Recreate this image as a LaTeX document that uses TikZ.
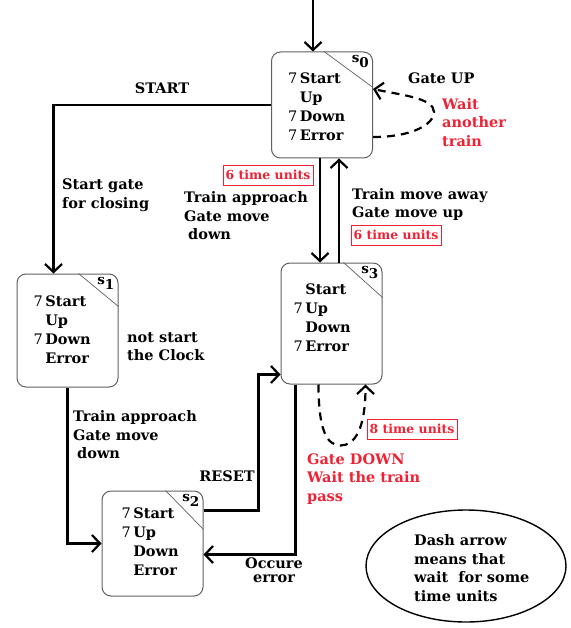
\documentclass[tikz,border=0pt]{standalone}
\usepackage{fontspec}
\setmainfont{DejaVu Serif}
\usetikzlibrary{arrows.meta,positioning,calc,shapes.geometric}
\definecolor{alertred}{RGB}{238,34,52}
\definecolor{boxgray}{RGB}{95,95,95}
\newcommand{\seven}{{\mdseries 7}}
\newcommand{\stname}[1]{s\raisebox{-5pt}{#1}}
\tikzset{
  state/.style={draw=boxgray, line width=1pt, rounded corners=9pt, minimum width=101pt, inner sep=0pt},
  corner/.style={draw=boxgray, line width=0.7pt},
  tag/.style={inner sep=0pt, anchor=north east, font=\fontsize{13.5}{14}\selectfont\bfseries},
  lines/.style={font=\fontsize{14.5}{19}\selectfont\bfseries, inner sep=0pt, anchor=north west},
  note/.style={align=left, font=\fontsize{14.5}{18.5}\selectfont\bfseries, inner sep=0pt},
  waitnote/.style={note, text=alertred},
  units/.style={draw=alertred, text=alertred, line width=0.8pt, font=\fontsize{12.5}{14}\selectfont\bfseries, inner sep=2.5pt, minimum height=20pt},
  wire/.style={line width=2.2pt, ->},
  wait/.style={wire, dash pattern=on 8pt off 6pt},
  >={Straight Barb[length=8pt,width=17pt]}
}

\begin{document}
\begin{tikzpicture}[x=1pt, y=-1pt]
  \useasboundingbox (0,0) rectangle (570,628);

  % States
  \node[state, minimum height=106pt] (s0) at (322,105) {};
  \node[state, minimum height=113pt] (s1) at (67.5,330.5) {};
  \node[state, minimum height=105pt] (s2) at (152.5,543.5) {};
  \node[state, minimum height=121pt] (s3) at (331.5,323.5) {};

  % corner tags
  \draw[corner] ($(s0.north east)+(-49,0)$) -- ($(s0.north east)+(0,36)$);
  \draw[corner] ($(s1.north east)+(-40,0)$) -- ($(s1.north east)+(0,33)$);
  \draw[corner] ($(s2.north east)+(-38,0)$) -- ($(s2.north east)+(0,39)$);
  \draw[corner] ($(s3.north east)+(-39,0)$) -- ($(s3.north east)+(0,35)$);
  \node[tag] (s0n) at ($(s0.north east)+(-4,4)$) {\stname{0}};
  \node[tag] (s1n) at ($(s1.north east)+(-4,4)$) {\stname{1}};
  \node[tag] (s2n) at ($(s2.north east)+(-4,4)$) {\stname{2}};
  \node[tag] (s3n) at ($(s3.north east)+(-4,4)$) {\stname{3}};

  % state contents
  \node[lines] (s0t) at ($(s0.north west)+(17,19)$)
    {\begin{tabular}{@{}r@{\,}l@{}}\seven&Start\\&Up\\\seven&Down\\\seven&Error\end{tabular}};
  \node[lines] (s1t) at ($(s1.north west)+(17,19)$)
    {\begin{tabular}{@{}r@{\,}l@{}}\seven&Start\\&Up\\\seven&Down\\&Error\end{tabular}};
  \node[lines] (s2t) at ($(s2.north west)+(20,14)$)
    {\begin{tabular}{@{}r@{\,}l@{}}\seven&Start\\\seven&Up\\&Down\\&Error\end{tabular}};
  \node[lines] (s3t) at ($(s3.north west)+(13,18)$)
    {\begin{tabular}{@{}r@{\,}l@{}}&Start\\\seven&Up\\&Down\\\seven&Error\end{tabular}};

  % Transitions
  \coordinate (init) at (313,0);
  \draw[wire] (init) -- (init |- s0.north);

  \coordinate (st) at ($(s1.north)+(-14,0)$);
  \draw[wire] (s0.west) -| (st);
  \node[note] (lstart) at (162,88) {START};
  \node[note, anchor=west] (lgate) at (62,195) {Start gate\\for closing};

  \coordinate (dn) at ($(s0.south)+(-2,0)$);
  \coordinate (up) at ($(s0.south)+(17,0)$);
  \draw[wire] (dn) -- (dn |- s3.north);
  \draw[wire] (up |- s3.north) -- (up);
  \node[units] (u1) at (268,175) {6 time units};
  \node[note, anchor=west] (lapp) at (184,216) {Train approach\\Gate move\\\hspace{4pt}down};
  \node[note, anchor=west] (lawy) at (352,204.5) {Train move away\\Gate move up};
  \node[units] (u2) at (396,235) {6 time units};

  \coordinate (w0a) at ($(s0.east)+(0,32)$);
  \coordinate (w0b) at ($(s0.east)+(0,-16)$);
  \coordinate (w0c) at ($(s0.east)+(61,7)$);
  \draw[wait] (w0a) .. controls +(40,0) and +(0,12) .. (w0c)
    .. controls +(0,-14) and +(28,6) .. (w0b);
  \node[note, anchor=west] (lup) at (408,78) {Gate UP};
  \node[waitnote, anchor=west] (lwait) at (442,122.5) {Wait\\another\\train};

  \node[note, anchor=west] (lclk) at (127,346.5) {not start\\the Clock};

  \draw[wire] (s1.south) |- (s2.west);
  \node[note, anchor=west] (lapp2) at (73,435) {Train approach\\Gate move\\\hspace{4pt}down};

  \coordinate (rs) at ($(s2.east)+(0,-33)$);
  \coordinate (rt) at ($(s3.west)+(0,51)$);
  \draw[wire] (rs) -- ++(55,0) |- (rt);
  \node[note] (lrst) at (227,476) {RESET};

  \coordinate (oe) at ($(s3.south)+(-36,0)$);
  \coordinate (oe2) at ($(s2.east)+(0,11)$);
  \draw[wire] (oe) |- (oe2);
  \node[note, align=center, font=\fontsize{14.5}{14}\selectfont\bfseries] (lerr) at (274,570) {Occure\\error};

  \coordinate (w3a) at ($(s3.south)+(-13,0)$);
  \coordinate (w3b) at ($(s3.south)+(34,0)$);
  \coordinate (w3c) at ($(s3.south)+(9,61)$);
  \draw[wait] (w3a) .. controls +(0,45) and +(-14,0) .. (w3c)
    .. controls +(14,0) and +(0,45) .. (w3b);
  \node[units] (u3) at (412,429) {8 time units};
  \node[waitnote, anchor=west] (ldown) at (307,479) {Gate DOWN\\Wait the train\\pass};

  % Legend
  \node[ellipse, draw, line width=1.4pt, minimum width=200pt, minimum height=112pt] (key) at (466,566) {};
  \node[note, anchor=west] (keyt) at (414,568) {Dash arrow\\means that\\wait\ \ for some\\time units};
\end{tikzpicture}
\end{document}
